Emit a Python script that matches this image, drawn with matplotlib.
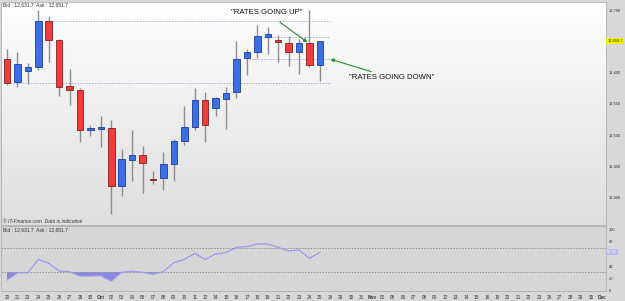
import numpy as np
import matplotlib.pyplot as plt

plt.rcParams['font.family'] = ['Liberation Sans', 'DejaVu Sans']

# daily candles (Sep 20 -> Oct 25), then empty calendar to Dec
dates = ['20', '21', '23', '24', '25', '26', '27', '28', '30', 'Oct',
         '02', '03', '04', '05', '07', '08', '09', '10', '11', '12',
         '14', '15', '16', '17', '18', '19', '21', '22', '23', '24',
         '25', '26', '29', '30', '31', 'Nov', '02', '05', '06', '07',
         '08', '09', '12', '13', '14', '15', '16', '19', '20', '21',
         '22', '23', '26', '27', '28', '29', '30', 'Dec']
opens = [12621, 12585, 12602, 12609, 12683, 12652, 12578, 12571, 12508, 12509,
         12511, 12417, 12459, 12467, 12429, 12431, 12452, 12489, 12512, 12555,
         12542, 12557, 12568, 12623, 12633, 12657, 12652, 12647, 12632, 12647, 12612]
highs = [12638, 12632, 12615, 12700, 12691, 12653, 12606, 12575, 12515, 12530,
         12523, 12477, 12507, 12481, 12441, 12472, 12493, 12546, 12574, 12569,
         12561, 12577, 12650, 12637, 12676, 12672, 12660, 12659, 12653, 12700, 12651]
lows = [12579, 12577, 12581, 12604, 12616, 12562, 12547, 12488, 12497, 12480,
        12372, 12402, 12426, 12406, 12421, 12411, 12426, 12483, 12508, 12488,
        12529, 12509, 12559, 12596, 12623, 12629, 12617, 12610, 12598, 12608, 12586]
closes = [12583, 12613, 12609, 12683, 12652, 12577, 12571, 12507, 12510, 12512,
          12418, 12460, 12467, 12454, 12428, 12453, 12490, 12512, 12555, 12515,
          12558, 12567, 12622, 12632, 12658, 12662, 12648, 12633, 12647, 12612, 12650.7]
rsi = [17.4, 29.3, 29.3, 51.0, 44.6, 32.0, 31.0, 24.0, 24.0, 24.5,
       15.8, 30.0, 31.6, 30.0, 26.7, 31.2, 45.6, 51.0, 60.9, 51.0,
       59.8, 61.9, 70.7, 71.7, 76.0, 76.0, 70.7, 64.7, 66.3, 52.7, 62.5]

# drawn support / resistance levels: (price, start index, end index)
levels = [12683, 12583, 12657, 12622]
level_start = [4.3, 0.3, 24.3, 23.2]
level_end = [31.0, 31.0, 31.0, 31.0]

# 12,650 is covered by the last-price tag
price_ticks = [12400, 12450, 12500, 12550, 12600, 12700]
last_price = '12,650.7'

fig = plt.figure(figsize=(6.25, 3.01), dpi=100, facecolor='#d8d8d8')
ax = fig.add_axes([0.0016, 0.2525, 0.968, 0.741])
ax2 = fig.add_axes([0.0016, 0.0332, 0.968, 0.216], sharex=ax)

x = np.arange(len(opens))
xlim = (-0.575, 57.43)
ax.set_xlim(*xlim)
ax.set_ylim(12354.8, 12712.9)

# gradient background
grad = np.linspace(0, 1, 256).reshape(-1, 1)
ax.imshow(grad, extent=[xlim[0], xlim[1], 12354.8, 12712.9], aspect='auto',
          cmap=plt.matplotlib.colors.LinearSegmentedColormap.from_list('g', ['#dedede', '#ffffff']),
          origin='lower', zorder=0)

o = np.array(opens); c = np.array(closes)
up = c >= o
body_col = np.where(up, '#3c6fe6', '#f03c3c')
edge_col = np.where(up, '#1c3c9c', '#8a1c1c')
ax.vlines(x, lows, highs, color='#8c8c8c', lw=1.0, zorder=2)
h = np.where(np.abs(c - o) < 1.5, 1.5 * np.sign(c - o + 1e-9), c - o)
ax.bar(x, h, bottom=o, width=0.62, color=body_col, edgecolor=edge_col, lw=0.6, zorder=3)

for lv, s, e in zip(levels, level_start, level_end):
    ax.hlines(lv, s, e, color='#9fb3d9', lw=0.7, linestyles=(0, (1.5, 1.5)), zorder=1)

ax.annotate('"RATES GOING UP"', xy=(28.8, 12648), xytext=(24.9, 12696),
            ha='center', va='center', fontsize=5.6, color='#111111',
            arrowprops=dict(arrowstyle='-|>', color='#2a8a2a', lw=0.8,
                            mutation_scale=5, shrinkA=4, shrinkB=0))
ax.annotate('"RATES GOING DOWN"', xy=(31.0, 12621), xytext=(32.8, 12591),
            ha='left', va='center', fontsize=5.6, color='#111111',
            arrowprops=dict(arrowstyle='-|>', color='#2a8a2a', lw=0.8,
                            mutation_scale=5, shrinkA=0, shrinkB=0))

ax.text(0.003, 0.997, 'Bid : 12,631.7  Ask : 12,651.7', transform=ax.transAxes,
        fontsize=3.6, va='top', ha='left', color='#333333')
ax.text(0.003, 0.005, '© IT-Finance.com  Data is indicative', transform=ax.transAxes,
        fontsize=3.6, va='bottom', ha='left', color='#333333', style='italic')

ax.yaxis.tick_right()
ax.set_yticks(price_ticks)
ax.set_yticklabels([f'{t:,}' for t in price_ticks])
ax.tick_params(axis='y', length=0, pad=2.2, labelsize=2.9, labelcolor='#333333')
ax.tick_params(axis='x', bottom=False, labelbottom=False)
ax.text(1.002, 12650.7, last_price, transform=ax.get_yaxis_transform(), fontsize=2.9,
        va='center', ha='left', color='#333333', zorder=5,
        bbox=dict(boxstyle='square,pad=0.25', fc='#f5f000', ec='none'))
for sp in ax.spines.values():
    sp.set_color('#b0b0b0')
    sp.set_linewidth(0.6)

# lower indicator panel
ax2.set_facecolor('#d6d6d6')
ax2.set_ylim(-0.5, 105.4)
ax2.axhline(70, color='#8a8a8a', lw=0.7, linestyle=(0, (1.5, 1.5)))
ax2.axhline(30, color='#8a8a8a', lw=0.7, linestyle=(0, (1.5, 1.5)))
r = np.array(rsi)
ax2.fill_between(x, r, 30, where=r < 30, interpolate=True, color='#8888e0', lw=0)
ax2.plot(x, r, color='#9a9aee', lw=0.9)
ax2.text(0.003, 0.985, 'Bid : 12,631.7  Ask : 12,651.7', transform=ax2.transAxes,
         fontsize=3.6, va='top', ha='left', color='#333333')

ax2.yaxis.tick_right()
ax2.set_yticks([0, 20, 40, 80, 100])
ax2.tick_params(axis='y', length=0, pad=2.2, labelsize=2.9, labelcolor='#333333')
ax2.text(1.002, 62.5, '62.51', transform=ax2.get_yaxis_transform(), fontsize=2.9,
         va='center', ha='left', color='#ffffff',
         bbox=dict(boxstyle='square,pad=0.25', fc='#b8b8f0', ec='none'))

ax2.set_xticks(np.arange(len(dates)))
ax2.set_xticklabels(dates)
ax2.tick_params(axis='x', length=0, pad=3, labelsize=3.4, labelcolor='#333333')
for lbl in ax2.get_xticklabels():
    if lbl.get_text() in ('Oct', 'Nov', 'Dec'):
        lbl.set_fontweight('bold')
for sp in ax2.spines.values():
    sp.set_color('#b0b0b0')
    sp.set_linewidth(0.6)

fig.savefig('out.png', dpi=100, facecolor=fig.get_facecolor())
